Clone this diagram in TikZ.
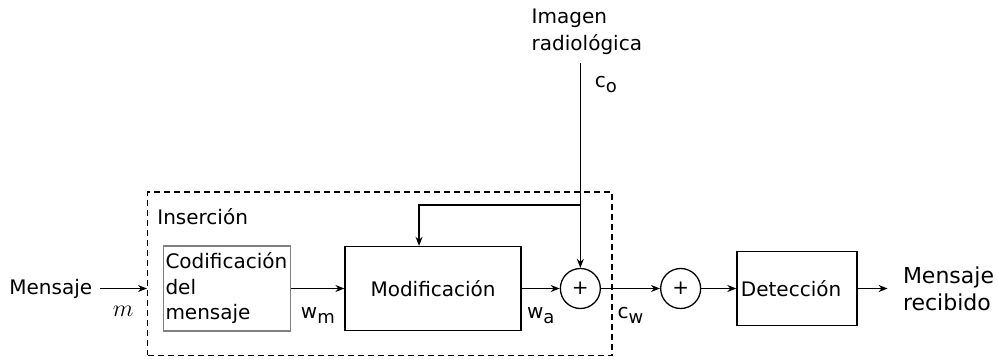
\documentclass[tikz,border=0pt]{standalone}
\usepackage{fontspec}
\setmainfont{DejaVu Sans}
\usetikzlibrary{arrows.meta,positioning,fit,calc}
\newcommand{\lowsub}[1]{\raisebox{-2.5pt}{\fontsize{9}{10}\selectfont #1}}

\begin{document}
\begin{tikzpicture}[x=0.5pt, y=-0.5pt,
  blk/.style={draw, line width=0.65pt, inner sep=2pt, font=\fontsize{10}{12}\selectfont},
  codblk/.style={blk, draw=gray, line width=0.9pt, text width=61.5pt, inner xsep=1pt,
                 minimum height=42.5pt, align=left, font=\fontsize{10}{12.75}\selectfont},
  sumnode/.style={circle, draw, line width=0.65pt, minimum size=20pt, inner sep=0pt,
                  font=\fontsize{10}{12}\selectfont},
  insframe/.style={draw, dash pattern=on 3pt off 2pt, line width=0.65pt, inner sep=0pt},
  lbl/.style={inner sep=1pt, font=\fontsize{10}{12}\selectfont},
  arr/.style={-{Stealth[length=4.5pt,width=3.5pt]}, line width=0.65pt}]
  \useasboundingbox (0,0) rectangle (997,359);
  \node[codblk] (cod) at (227,288.5) {Codificación\\del\\mensaje};
  \node[blk, right=26.5pt of cod, minimum width=88pt, minimum height=42pt] (mod) {Modificación};
  \node[sumnode, right=19pt of mod] (sum1) {+};
  \node[sumnode, right=29.5pt of sum1] (sum2) {+};
  \node[blk, right=17.5pt of sum2, minimum width=60pt, minimum height=37pt,
        text width=56pt, align=left] (det) {Detección};
  \node[lbl, right=21.5pt of det, align=left, font=\fontsize{11}{13.5}\selectfont] (out) {Mensaje\\recibido};
  \node[lbl, left=31.5pt of cod, inner xsep=3.5pt] (msg) {Mensaje};
  \node[lbl, above=105.5pt of sum1, xshift=3.25pt, align=left,
        font=\fontsize{10}{13.5}\selectfont] (img) {Imagen\\radiológica};

  \coordinate (insNW) at ($(cod.west |- mod.north)+(-7.5pt,27pt)$);
  \coordinate (insSE) at ($(sum1.east |- mod.south)+(5.5pt,-12pt)$);
  \node[insframe, fit=(insNW)(insSE)] (ins) {};
  \node[lbl, anchor=north west] (inslbl) at ($(ins.north west)+(4pt,-7.3pt)$) {Inserción};

  \coordinate (src) at ($(img.south -| sum1)+(0,-3pt)$);
  \coordinate (br) at ($(sum1 |- mod.north)+(0,20.5pt)$);
  \draw[arr] (src) -- (sum1);
  \draw[arr] (br) -| ([xshift=-7pt]mod.north);
  \node[lbl, anchor=base west] (colbl) at ($(src)+(6pt,-12.25pt)$) {c\lowsub{o}};

  \draw[arr] (msg) -- node[lbl, below=7.5pt, font=\fontsize{13}{14}\selectfont] {$m$} (msg -| ins.west);
  \draw[arr] (cod) -- node[lbl, below=8pt] {w\lowsub{m}} (mod);
  \draw[arr] (mod) -- node[lbl, below=8pt] {w\lowsub{a}} (sum1);
  \draw[arr] (sum1) -- node[lbl, below=8pt] {c\lowsub{w}} (sum2);
  \draw[arr] (sum2) -- (det);
  \draw[arr] (det) -- ([xshift=-6.5pt]out.west);
\end{tikzpicture}
\end{document}
